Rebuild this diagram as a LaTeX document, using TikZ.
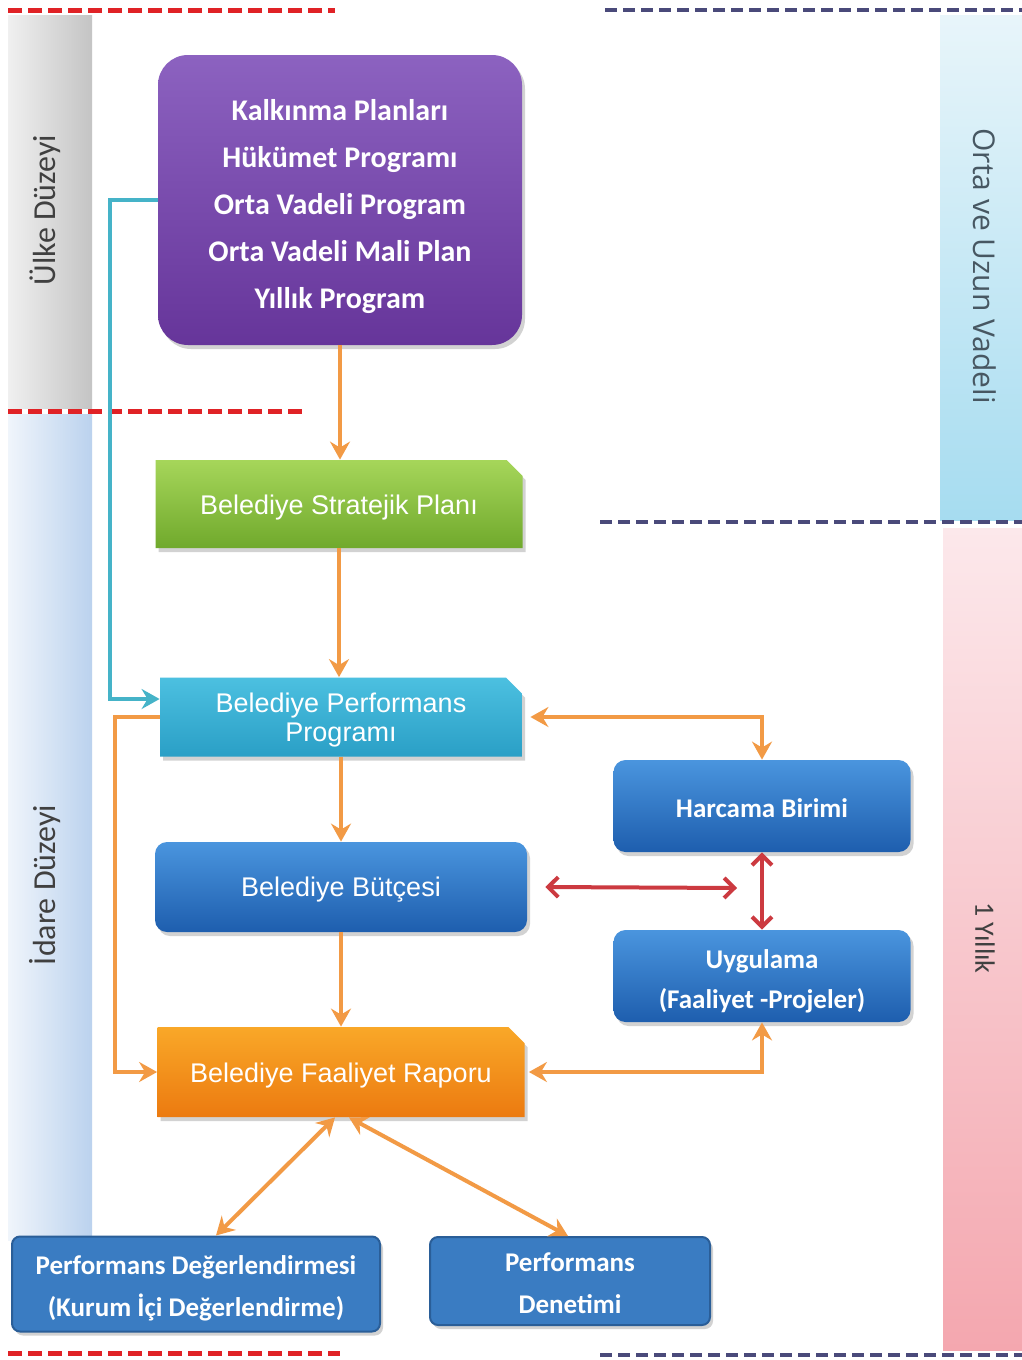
\documentclass[tikz,border=0pt]{standalone}
\usepackage{fontspec}
\setmainfont{Carlito}
\newfontfamily\arialfont{Liberation Sans}
\newfontfamily\bandfont{Open Sans}
\usetikzlibrary{arrows.meta,shadows,shapes.misc}

\definecolor{purpletop}{HTML}{8C62C0}
\definecolor{purplebot}{HTML}{66359A}
\definecolor{greentop}{HTML}{A6D65A}
\definecolor{greenbot}{HTML}{70A92C}
\definecolor{cyantop}{HTML}{4CC0E0}
\definecolor{cyanbot}{HTML}{2A9FC6}
\definecolor{bluetop}{HTML}{4A95DE}
\definecolor{bluebot}{HTML}{1E5EAE}
\definecolor{orangetop}{HTML}{F9A828}
\definecolor{orangebot}{HTML}{EC7A10}
\definecolor{evalblue}{HTML}{3A7CC2}
\definecolor{evalline}{HTML}{2A5E98}
\definecolor{arroworange}{HTML}{F29A45}
\definecolor{linkteal}{HTML}{45B3C8}
\definecolor{linkred}{HTML}{CC3A40}
\definecolor{dashred}{HTML}{E02226}
\definecolor{dashnavy}{HTML}{4A4A7A}
\definecolor{ulkeleft}{HTML}{F0F0F0}
\definecolor{ulkeright}{HTML}{C4C4C4}
\definecolor{idareleft}{HTML}{F0F5FB}
\definecolor{idareright}{HTML}{BBD2EE}
\definecolor{vadetop}{HTML}{E8F5FA}
\definecolor{vadebot}{HTML}{A6DCF0}
\definecolor{yiltop}{HTML}{FCE8EB}
\definecolor{yilbot}{HTML}{F4A7AF}

\tikzset{
  box/.style={draw=none, text=white, align=center, inner sep=0pt,
    drop shadow={shadow xshift=1.5pt, shadow yshift=-2pt, opacity=0.35}},
  planbox/.style={box, rounded corners=15pt, top color=purpletop, bottom color=purplebot,
    font=\bfseries\fontsize{15}{23.5}\selectfont},
  flatbox/.style={box, shape=chamfered rectangle, chamfered rectangle corners=north east,
    chamfered rectangle xsep=4pt, chamfered rectangle ysep=4pt,
    font=\arialfont\fontsize{13.5}{15}\selectfont},
  bluebox/.style={box, rounded corners=6pt, top color=bluetop, bottom color=bluebot,
    font=\bfseries\fontsize{13.5}{20}\selectfont},
  evalbox/.style={box, rounded corners=4pt, fill=evalblue, draw=evalline, line width=1pt,
    font=\bfseries\fontsize{13.5}{21}\selectfont},
  bandtext/.style={text=black!75, font=\fontsize{16}{16}\selectfont},
  oline/.style={draw=arroworange, line width=2pt},
  oarrow/.style={oline, -{Stealth[length=9pt,width=10pt,inset=3pt]}},
  o2arrow/.style={oline, {Stealth[length=9pt,width=10pt,inset=3pt]}-{Stealth[length=9pt,width=10pt,inset=3pt]}},
  tarrow/.style={draw=linkteal, line width=2pt, -{Stealth[length=9pt,width=10pt,inset=3pt]}},
  rarrow/.style={draw=linkred, line width=2pt, {Straight Barb[length=5pt,width=10pt]}-{Straight Barb[length=5pt,width=10pt]}},
  reddash/.style={draw=dashred, line width=2.5pt, dash pattern=on 7pt off 3pt},
  navydash/.style={draw=dashnavy, line width=2pt, dash pattern=on 6pt off 3pt}
}

\begin{document}
\begin{tikzpicture}[x=0.5pt, y=-0.5pt]
\useasboundingbox (0,0) rectangle (1022,1360);
\fill[white] (0,0) rectangle (1022,1360);

% bands
\shade[left color=ulkeleft, right color=ulkeright] (8,15) rectangle (92,408);
\shade[left color=idareleft, right color=idareright] (8,414) rectangle (92,1240);
\shade[top color=vadetop, bottom color=vadebot] (940,15) rectangle (1022,520);
\shade[top color=yiltop, bottom color=yilbot] (943,528) rectangle (1022,1350);

\node[bandtext, rotate=90] (ulke) at (45,210) {Ülke Düzeyi};
\node[bandtext, rotate=90] (idare) at (45,885) {İdare Düzeyi};
\node[bandtext, rotate=-90, text=black!70!cyan, font=\bandfont\fontsize{15}{15}\selectfont] (vade) at (985,266) {Orta ve Uzun Vadeli};
\node[bandtext, rotate=-90, font=\fontsize{14}{14}\selectfont] (yil) at (985,938) {1 Yıllık};

% dashed borders
\draw[reddash] (8,10) -- (335,10);
\draw[reddash] (8,411) -- (305,411);
\draw[reddash] (8,1353) -- (340,1353);
\draw[navydash] (605,10) -- (1022,10);
\draw[navydash] (600,522) -- (1022,522);
\draw[navydash] (600,1355) -- (1022,1355);

% boxes
\node[planbox, minimum width=182pt, minimum height=145pt] (plans) at (340,200)
  {\rule{0pt}{17pt}Kalkınma Planları\\Hükümet Programı\\Orta Vadeli Program\\Orta Vadeli Mali Plan\\Yıllık Program};
\node[flatbox, top color=greentop, bottom color=greenbot, minimum width=183.5pt, minimum height=44pt] (strateji) at (339,504)
  {\rule{0pt}{13pt}Belediye Stratejik Planı};
\node[flatbox, top color=cyantop, bottom color=cyanbot, minimum width=181pt, minimum height=39.5pt,
  font=\arialfont\fontsize{13.5}{14.5}\selectfont] (perfprog) at (341,717)
  {\rule{0pt}{13pt}Belediye Performans\\Programı};
\node[bluebox, minimum width=186pt, minimum height=45pt, font=\arialfont\fontsize{13.5}{15}\selectfont] (butce) at (341,887)
  {\rule{0pt}{12pt}Belediye Bütçesi};
\node[flatbox, top color=orangetop, bottom color=orangebot, minimum width=183.5pt, minimum height=45pt] (faaliyet) at (341,1072)
  {\rule{0pt}{13pt}Belediye Faaliyet Raporu};
\node[bluebox, minimum width=148.5pt, minimum height=46pt] (harcama) at (762,806) {\rule{0pt}{12pt}Harcama Birimi};
\node[bluebox, minimum width=148.5pt, minimum height=46pt] (uygulama) at (762,976) {\rule{0pt}{15pt}Uygulama\\(Faaliyet -Projeler)};
\node[evalbox, minimum width=184pt, minimum height=47.5pt] (degerlendirme) at (196,1284)
  {\rule{0pt}{14pt}Performans Değerlendirmesi\\(Kurum İçi Değerlendirme)};
\node[evalbox, minimum width=140pt, minimum height=44pt] (denetim) at (570,1281) {\rule{0pt}{12pt}Performans\\Denetimi};

\coordinate (redend) at (737,888);

% connectors
\draw[oarrow] (plans.south) -- (plans.south |- strateji.north);
\draw[oarrow] (strateji.south) -- (strateji.south |- perfprog.north);
\draw[oarrow] (perfprog.south) -- (butce.north);
\draw[oarrow] (butce.south) -- (faaliyet.north);
\draw[tarrow] (plans.west) -- ++(-48,0) |- ([yshift=9pt]perfprog.west);
\draw[oarrow] (perfprog.west) -- ++(-45,0) |- (faaliyet.west);
\draw[o2arrow] ([xshift=4pt]perfprog.east) -| (harcama.north);
\draw[o2arrow] ([xshift=2pt]faaliyet.east) -| (uygulama.south);
\draw[rarrow] ([xshift=9pt]butce.east) -- (redend);
\draw[rarrow] (harcama.south) -- (uygulama.north);
\draw[o2arrow] ([xshift=-3pt]faaliyet.south) -- ([xshift=10pt]degerlendirme.north);
\draw[o2arrow] ([xshift=4pt]faaliyet.south) -- ([xshift=-1pt]denetim.north);
\end{tikzpicture}
\end{document}
